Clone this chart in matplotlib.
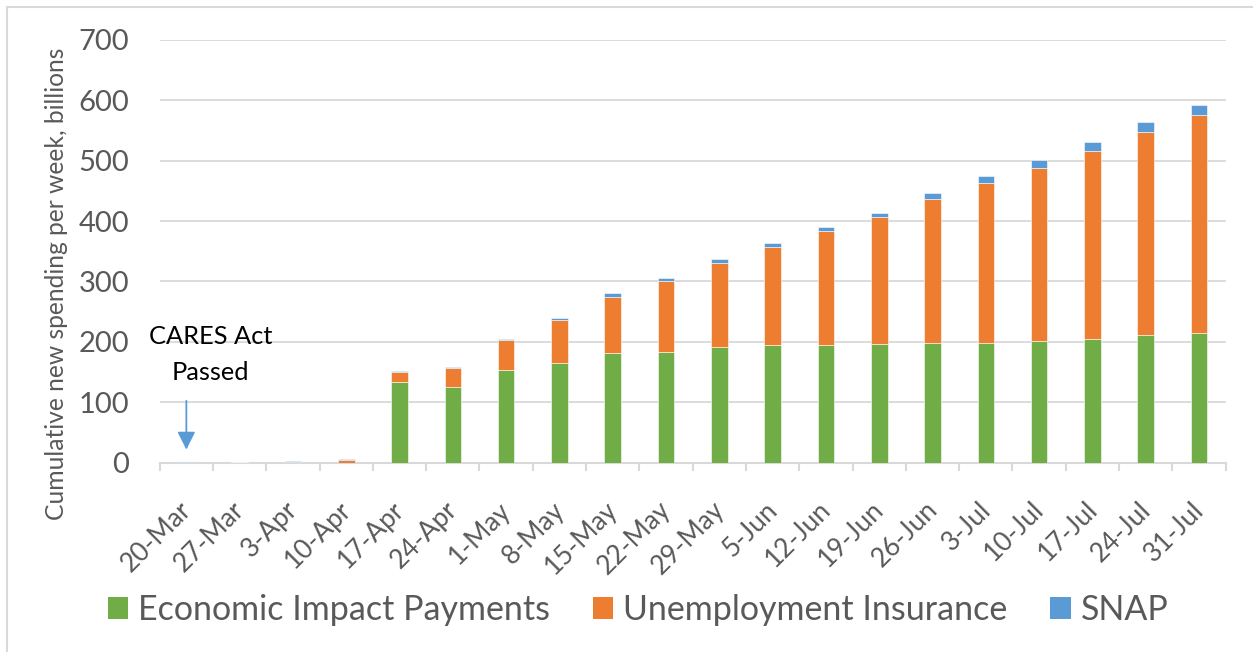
import numpy as np
import matplotlib
matplotlib.use('Agg')
import matplotlib.pyplot as plt
from matplotlib.patches import Patch, Rectangle
from matplotlib.transforms import ScaledTranslation

plt.rcParams['font.family'] = ['Lato', 'DejaVu Sans']

# weekly dates
weeks = ['20-Mar', '27-Mar', '3-Apr', '10-Apr', '17-Apr', '24-Apr', '1-May', '8-May',
         '15-May', '22-May', '29-May', '5-Jun', '12-Jun', '19-Jun', '26-Jun', '3-Jul',
         '10-Jul', '17-Jul', '24-Jul', '31-Jul']

# billions, stacked
eip = [0, 0, 0, 0, 134, 126, 154, 165, 181, 183.5, 191, 194.5, 195, 196, 198, 198.5,
       201.5, 205, 211, 215]
ui = [0.3, 0.5, 1, 4.5, 16, 31, 49, 71, 94, 117, 139, 162.5, 188, 210, 238, 264,
      287, 311, 337, 361]
snap = [0.3, 0.5, 1.5, 1, 2, 2, 2.5, 3, 5.5, 5.5, 6.5, 7, 7.5, 8, 11, 12, 13, 15, 16, 17]

series_names = ['Economic Impact Payments', 'Unemployment Insurance', 'SNAP']
colors = ['#70ad47', '#ed7d31', '#5b9bd5']

W, H = 1253, 652
fig = plt.figure(figsize=(W / 100, H / 100), dpi=100)
ax = fig.add_axes([159.7 / W, 1 - 462.7 / H, 1066 / W, (462.7 - 39.9) / H])

x = np.arange(len(weeks))
bw = 0.31
bottom = np.zeros(len(weeks))
for vals, c in zip([eip, ui, snap], colors):
    vals = np.array(vals)
    ax.bar(x, vals, bw, bottom=bottom, color=c, edgecolor='white', linewidth=0.4, zorder=3)
    bottom += vals

ax.set_xlim(-0.5, len(weeks) - 0.5)
ax.set_ylim(0, 700)
ax.set_yticks(range(0, 701, 100))
ax.yaxis.grid(True, color='#d9d9d9', linewidth=1.3)
ax.set_axisbelow(True)

for s in ['top', 'right', 'left']:
    ax.spines[s].set_visible(False)
ax.spines['bottom'].set_color('#d9d9d9')
ax.spines['bottom'].set_linewidth(1.5)

ax.set_xticks(x)
ax.set_xticklabels(weeks, rotation=45, ha='right', va='center', rotation_mode='anchor')
ax.set_xticks(np.arange(-0.5, len(weeks), 1), minor=True)
ax.tick_params(axis='x', which='major', length=0, pad=21, labelsize=19, labelcolor='#595959')
ax.tick_params(axis='x', which='minor', length=6, width=1.5, color='#d9d9d9')
ax.tick_params(axis='y', length=0, pad=22, labelsize=21, labelcolor='#595959')
# nudge the rotated labels down, like the original
shift = ScaledTranslation(0.01, -0.14, fig.dpi_scale_trans)
for lbl in ax.get_xticklabels():
    lbl.set_transform(lbl.get_transform() + shift)

fig.text(57 / W, 1 - 284 / H, 'Cumulative new spending per week, billions', rotation=90,
         ha='center', va='center', fontsize=17.7, color='#595959')

# CARES Act marker
ax.annotate('', xy=(0, 17), xytext=(0, 107),
            arrowprops=dict(arrowstyle='-|>', color='#5b9bd5', lw=1.3, mutation_scale=27))
ax.text(0.46, 179, 'CARES Act\nPassed', ha='center', va='center', fontsize=18.3,
        color='black', linespacing=1.7)

handles = [Patch(facecolor=c, edgecolor='none') for c in colors]
fig.legend(handles, series_names, loc='center', bbox_to_anchor=(638 / W, 1 - 610 / H), ncol=3,
           frameon=False, fontsize=24.5, labelcolor='#595959', handlelength=0.61,
           handleheight=0.61, handletextpad=0.29, columnspacing=1.25)

# outer chart frame
fig.add_artist(Rectangle((7 / W, -0.1), 1.2, 1.1 - 7 / H, transform=fig.transFigure,
                         fill=False, edgecolor='#d9d9d9', linewidth=1.5))

fig.savefig('out.png', dpi=100)
